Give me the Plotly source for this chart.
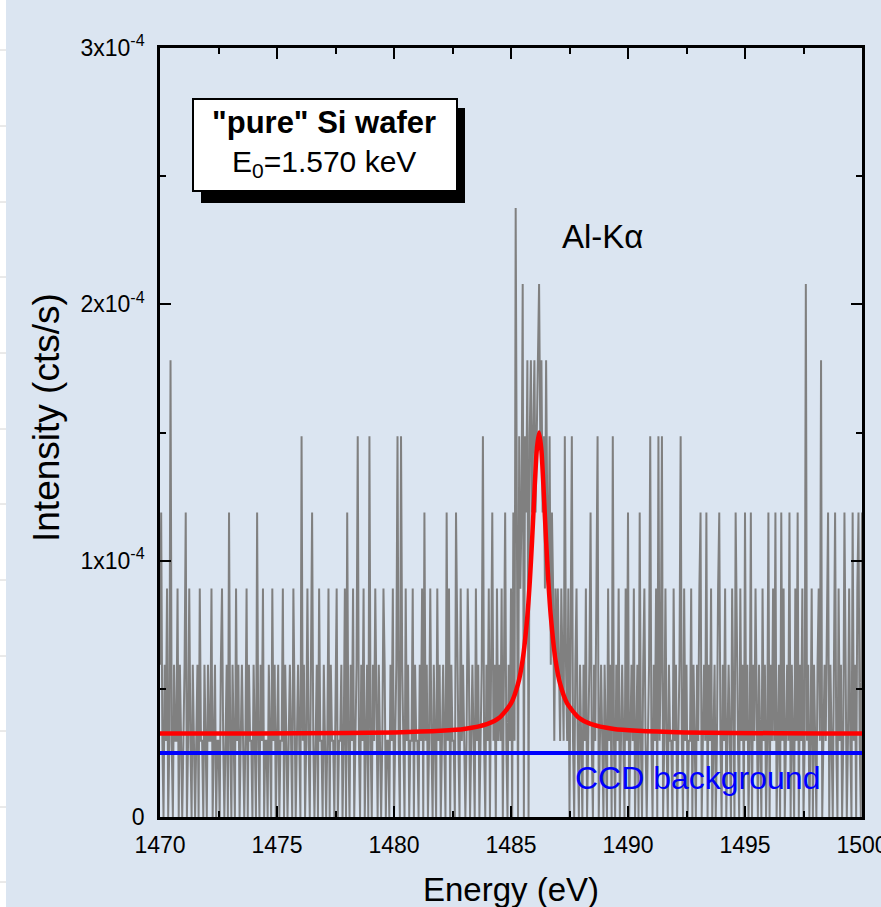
import plotly.graph_objects as go

# ---------------- data ----------------
energy_start = 1470.0          # eV, first channel
channel_width = 0.05           # eV per channel
count_unit = 2.97e-5           # cts/s corresponding to one recorded count

# recorded counts per channel (1470.00 ... 1500.00 eV), one row = 1 eV
counts = [
    2,4,1,0,2,1,3,0,1,6,1,0,2,1,1,3,0,2,1,0,
    1,2,4,0,1,3,1,0,2,1,0,1,2,0,3,1,1,0,2,1,
    0,2,1,1,3,0,1,2,0,1,1,0,2,3,1,0,1,2,0,4,
    1,0,2,1,0,3,1,2,0,1,2,1,0,1,3,0,2,1,1,0,
    2,1,0,4,1,0,2,1,3,0,1,1,0,2,1,0,3,1,2,0,
    1,2,0,1,1,3,0,2,1,0,1,2,1,0,3,1,0,1,2,1,
    0,5,1,2,0,1,3,1,0,2,4,1,0,1,2,0,3,1,1,0,
    2,1,0,1,3,0,2,1,1,0,2,3,0,1,1,2,0,1,3,0,
    4,1,0,2,1,3,0,1,2,5,1,0,2,1,3,0,1,2,0,5,
    1,0,2,1,3,1,0,2,1,0,1,3,2,0,1,1,0,2,1,3,
    0,1,2,5,1,0,5,2,1,0,3,1,2,0,1,1,3,0,2,1,
    1,0,2,1,3,0,4,1,2,0,1,3,1,0,2,1,0,3,1,2,
    0,1,2,1,0,4,1,3,0,2,1,1,0,4,2,1,0,3,1,2,
    1,0,1,3,2,0,1,2,1,0,3,1,2,0,1,2,5,1,0,2,
    1,3,0,2,4,1,2,0,3,1,2,1,3,0,2,4,1,0,2,1,
    3,0,4,1,8,3,0,5,3,4,7,0,5,4,6,0,5,6,4,5,
    6,4,5,6,7,5,6,4,5,3,6,4,3,5,2,4,3,1,3,2,
    3,2,1,3,2,1,5,2,1,3,0,2,5,1,0,2,3,1,0,2,
    1,0,2,1,3,0,1,2,4,1,0,2,1,3,5,0,1,2,1,0,
    2,1,0,3,1,2,0,5,1,0,2,1,3,0,1,2,1,0,3,1,
    4,0,1,2,1,3,0,1,2,0,4,1,0,2,3,1,0,1,2,5,
    1,0,2,1,3,0,5,1,2,5,0,1,3,1,0,2,1,1,0,3,
    1,2,0,1,2,5,1,0,3,1,2,0,1,1,3,0,2,1,0,2,
    1,3,4,0,1,2,1,4,0,2,1,3,0,1,2,0,1,3,4,1,
    0,2,1,3,0,1,2,1,0,3,1,0,4,2,1,0,3,1,2,0,
    4,1,2,0,1,4,0,2,1,3,1,0,2,1,0,3,1,2,0,1,
    4,0,2,1,3,1,4,0,1,2,0,4,1,3,0,1,2,1,4,0,
    2,1,0,3,1,4,0,2,1,3,0,1,7,1,2,0,1,3,0,2,
    1,0,2,3,1,6,0,1,2,1,3,4,0,2,1,0,2,4,1,0,
    3,1,2,0,1,4,2,0,1,3,1,0,4,1,2,0,3,4,1,0,
    4,
]

# Al-K alpha line fit, intensity in 1e-4 cts/s
fit_energy = [1470.0, 1474.0, 1478.0, 1480.0, 1482.0, 1483.0, 1484.0, 1484.5,
              1485.0, 1485.3, 1485.5, 1485.7, 1485.8, 1485.9, 1486.0, 1486.1,
              1486.2, 1486.3, 1486.4, 1486.5, 1486.6, 1486.7, 1486.9, 1487.1,
              1487.4, 1487.9, 1488.4, 1489.4, 1490.4, 1492.4, 1494.4, 1498.4, 1500.0]
fit_value = [0.326, 0.326, 0.328, 0.330, 0.336, 0.343, 0.363, 0.387,
             0.443, 0.519, 0.614, 0.784, 0.913, 1.077, 1.265, 1.431,
             1.500, 1.431, 1.265, 1.077, 0.913, 0.784, 0.614, 0.519,
             0.443, 0.387, 0.363, 0.343, 0.336, 0.330, 0.328, 0.326, 0.326]

ccd_energy = [1470.0, 1500.0]
ccd_value = [0.25, 0.25]          # 1e-4 cts/s

x_ticks = [1470, 1475, 1480, 1485, 1490, 1495, 1500]
x_minor = [1472.5, 1477.5, 1482.5, 1487.5, 1492.5, 1497.5]
y_ticks = [0, 1e-4, 2e-4, 3e-4]
y_ticktext = ["0", "1x10<sup>-4</sup>", "2x10<sup>-4</sup>", "3x10<sup>-4</sup>"]
y_minor = [0.5e-4, 1.5e-4, 2.5e-4]

# ---------------- figure ----------------
energy = [energy_start + channel_width * i for i in range(len(counts))]
intensity = [c * count_unit for c in counts]

BG = "#dbe5f1"
FONT = "Liberation Sans"

fig = go.Figure()
fig.add_trace(go.Scatter(x=energy, y=intensity, mode="lines",
                         line=dict(color="#808080", width=2), hoverinfo="skip"))
fig.add_trace(go.Scatter(x=ccd_energy, y=[v * 1e-4 for v in ccd_value], mode="lines",
                         line=dict(color="#0000ff", width=4)))
fig.add_trace(go.Scatter(x=fit_energy, y=[v * 1e-4 for v in fit_value], mode="lines",
                         line=dict(color="#ff0000", width=4.5, shape="spline", smoothing=0.6)))

axis_common = dict(
    showline=True, linecolor="black", linewidth=2.5, mirror="allticks",
    ticks="inside", ticklen=11, tickwidth=2, tickcolor="black",
    showgrid=False, zeroline=False, ticklabeloverflow="allow", automargin=False,
    tickfont=dict(family=FONT, size=23, color="black"),
)

fig.update_xaxes(range=[1470, 1500], tickmode="array", tickvals=x_ticks,
                 minor=dict(tickmode="array", tickvals=x_minor, ticks="inside",
                            ticklen=6, tickwidth=2, tickcolor="black"),
                 ticklabelstandoff=6, **axis_common)
fig.update_yaxes(range=[0, 3e-4], tickmode="array", tickvals=y_ticks, ticktext=y_ticktext,
                 minor=dict(tickmode="array", tickvals=y_minor, ticks="inside",
                            ticklen=6, tickwidth=2, tickcolor="black"),
                 ticklabelstandoff=8, **axis_common)

PW, PH = 702.0, 769.0   # plot area size in px
def px(x):
    return (x - 160) / PW
def py(y):
    return (817 - y) / PH

shapes = [
    # left white page strip with faint rules
    dict(type="rect", xref="paper", yref="paper", x0=px(0), x1=px(6), y0=py(907), y1=py(0),
         fillcolor="white", line=dict(width=0), layer="below"),
]
for yy in [50, 126, 202, 277, 353, 429, 504, 580, 656, 731, 807, 882]:
    shapes.append(dict(type="line", xref="paper", yref="paper", x0=px(0), x1=px(6),
                       y0=py(yy), y1=py(yy), line=dict(color="#d4d4d4", width=1)))
# label box shadow and box
shapes.append(dict(type="rect", xref="paper", yref="paper", x0=px(201), x1=px(465),
                   y0=py(203), y1=py(108), fillcolor="black", line=dict(width=0)))
shapes.append(dict(type="rect", xref="paper", yref="paper", x0=px(193), x1=px(457),
                   y0=py(191), y1=py(99), fillcolor="white", line=dict(color="black", width=2)))

annotations = [
    dict(text="<b>\"pure\" Si wafer</b>", xref="paper", yref="paper", x=px(324), y=py(122),
         xanchor="center", yanchor="middle", showarrow=False,
         font=dict(family=FONT, size=31, color="black")),
    dict(text="E<sub>0</sub>=1.570 keV", xref="paper", yref="paper", x=px(324), y=py(163),
         xanchor="center", yanchor="middle", showarrow=False,
         font=dict(family=FONT, size=30, color="black")),
    dict(text="Al-K\u03b1", x=1488.89, y=2.263e-4, xref="x", yref="y",
         xanchor="center", yanchor="middle", showarrow=False,
         font=dict(family=FONT, size=33, color="black")),
    dict(text="CCD background", x=1492.95, y=0.154e-4, xref="x", yref="y",
         xanchor="center", yanchor="middle", showarrow=False,
         font=dict(family=FONT, size=32, color="#0000ff")),
    dict(text="Energy (eV)", xref="paper", yref="paper", x=px(511), y=py(889),
         xanchor="center", yanchor="middle", showarrow=False,
         font=dict(family=FONT, size=33, color="black")),
    dict(text="Intensity (cts/s)", xref="paper", yref="paper", x=px(46), y=py(418),
         xanchor="center", yanchor="middle", showarrow=False, textangle=-90,
         font=dict(family=FONT, size=37, color="black")),
]

fig.update_layout(
    width=881, height=907,
    margin=dict(l=160, r=19, t=48, b=90, pad=0, autoexpand=False),
    paper_bgcolor=BG, plot_bgcolor=BG,
    showlegend=False,
    shapes=shapes, annotations=annotations,
    font=dict(family=FONT, color="black"),
)

fig.write_html("out.html")
